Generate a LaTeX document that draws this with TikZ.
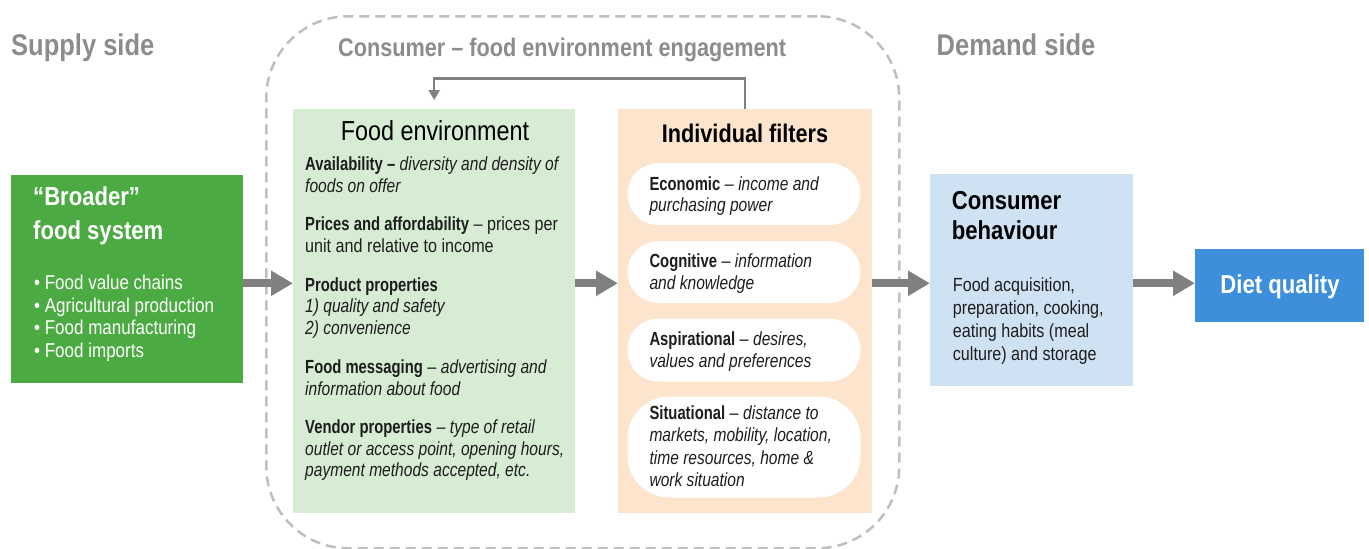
\documentclass[tikz,border=0pt]{standalone}
\usepackage{fontspec}
\setmainfont{Liberation Sans}[FakeStretch=0.85]
\newfontfamily\itfam{Liberation Sans}[FakeStretch=0.82]
\newfontfamily\mbfam{Liberation Sans}[FakeStretch=0.78]
\newcommand\iz[1]{{\itfam\itshape #1}}
\newcommand\mb[1]{{\mbfam\bfseries #1}}
\usetikzlibrary{arrows.meta,calc}
\definecolor{headgray}{HTML}{8C8C8C}
\definecolor{bordergray}{HTML}{BFBFBF}
\definecolor{arrowgray}{HTML}{808080}
\definecolor{sysgreen}{HTML}{4BAA42}
\definecolor{febg}{HTML}{D6ECD3}
\definecolor{fibg}{HTML}{FDE5CD}
\definecolor{cbbg}{HTML}{CFE2F3}
\definecolor{dietblue}{HTML}{3D8EDB}
\definecolor{textcol}{HTML}{1E1E1E}
\tikzset{
  panel/.style={draw=none, inner sep=0pt, anchor=north west},
  pill/.style={fill=white, inner sep=0pt, minimum width=233pt},
  txt/.style={anchor=base west, inner sep=0pt, align=left, text=textcol, font=\fontsize{19}{21.7}\selectfont},
  head/.style={anchor=base west, inner sep=0pt, text=headgray, font=\bfseries\fontsize{30}{34}\selectfont},
  fat/.style={draw=arrowgray, line width=8pt, -{Triangle[length=22pt,width=24pt]}},
  feedback/.style={draw=arrowgray, line width=2.5pt, -{Triangle[length=10pt,width=11pt]}}
}
\begin{document}
\begin{tikzpicture}[x=1pt,y=-1pt]
\useasboundingbox (0,0) rectangle (1369,549);
% engagement area
\node[panel, draw=bordergray, line width=2.5pt, dash pattern=on 10pt off 6pt, rounded corners=82pt, minimum width=633pt, minimum height=532pt] (eng) at (265,15) {};
% headings
\node[head] (supply) at (11,55) {Supply side};
\node[head] (demand) at (936.5,55) {Demand side};
\node[head, font=\bfseries\fontsize{25.5}{30}\selectfont] (engtitle) at (338,56) {Consumer – food environment engagement};
% panels
\node[panel, fill=sysgreen, minimum width=232pt, minimum height=208pt] (sys) at (11,175) {};
\node[panel, fill=febg, minimum width=282pt, minimum height=404pt] (fe) at (293,109) {};
\node[panel, fill=fibg, minimum width=254pt, minimum height=404pt] (fi) at (618,109) {};
\node[panel, fill=cbbg, minimum width=203pt, minimum height=212pt] (cb) at (930,173.5) {};
\node[panel, fill=dietblue, minimum width=169pt, minimum height=73pt] (diet) at (1195,248.5) {};
% broader food system (base anchor = last line)
\node[txt, text=white, font=\bfseries\fontsize{26}{33.3}\selectfont] (systitle) at (33,239) {“Broader”\\food system};
\node[txt, text=white, font=\fontsize{20}{22.7}\selectfont] (syslist) at (34,357.4) {• Food value chains\\• Agricultural production\\• Food manufacturing\\• Food imports};
% food environment
\node[anchor=base, inner sep=0pt, text=black, font=\fontsize{27.5}{30}\selectfont] (fetitle) at (435,140) {Food environment};
\node[txt] (fe1) at (305,192.5) {\mb{Availability –} \iz{diversity and density of}\\\iz{foods on offer}};
\node[txt] (fe2) at (305,252.2) {\mb{Prices and affordability} – prices per\\unit and relative to income};
\node[txt] (fe3) at (305,334.5) {\mb{Product properties}\\\iz{1) quality and safety}\\\iz{2) convenience}};
\node[txt] (fe4) at (305,395) {\mb{Food messaging} – \iz{advertising and}\\\iz{information about food}};
\node[txt] (fe5) at (305,476.7) {\mb{Vendor properties} – \iz{type of retail}\\\iz{outlet or access point, opening hours,}\\\iz{payment methods accepted, etc.}};
% individual filters
\node[anchor=base, inner sep=0pt, text=black, font=\bfseries\fontsize{25.5}{30}\selectfont] (fititle) at (745,142.7) {Individual filters};
\node[pill, rounded corners=31pt, minimum height=62pt] (p1) at (744,194) {};
\node[pill, rounded corners=31pt, minimum height=62pt] (p2) at (744,272) {};
\node[pill, rounded corners=31pt, minimum height=63pt] (p3) at (744,350) {};
\node[pill, rounded corners=42pt, minimum height=101pt] (p4) at (744,447) {};
\node[txt, font=\fontsize{19}{21.3}\selectfont] (t1) at (649.3,211.9) {\mb{Economic} – \iz{income and}\\\iz{purchasing power}};
\node[txt, font=\fontsize{19}{21.6}\selectfont] (t2) at (649.3,289.3) {\mb{Cognitive} – \iz{information}\\\iz{and knowledge}};
\node[txt, font=\fontsize{19}{22}\selectfont] (t3) at (649.3,367.7) {\mb{Aspirational} – \iz{desires,}\\\iz{values and preferences}};
\node[txt, font=\fontsize{19}{22.6}\selectfont] (t4) at (649.3,486.8) {\mb{Situational} – \iz{distance to}\\\iz{markets, mobility, location,}\\\iz{time resources, home \&}\\\iz{work situation}};
% consumer behaviour
\node[txt, text=black, font=\bfseries\fontsize{26}{30}\selectfont] (cbtitle) at (951.7,239) {Consumer\\behaviour};
\node[txt, font=\fontsize{19}{22.8}\selectfont] (cbtext) at (952.7,360) {Food acquisition,\\preparation, cooking,\\eating habits (meal\\culture) and storage};
% diet quality
\node[anchor=base, inner sep=0pt, text=white, font=\bfseries\fontsize{26}{30}\selectfont] (diettxt) at (1280,293.3) {Diet quality};
% arrows
\coordinate (ay) at (0,283.3);
\draw[fat] (sys.east |- ay) -- (fe.west |- ay);
\draw[fat] (fe.east |- ay) -- (fi.west |- ay);
\draw[fat] (fi.east |- ay) -- (cb.west |- ay);
\draw[fat] (cb.east |- ay) -- (diet.west |- ay);
\coordinate (fbtop) at (0,78.5);
\coordinate (fbend) at ($(fe.north)+(0,-9)$);
\draw[feedback] (fi.north) -- (fi.north |- fbtop) -| (fbend);
\end{tikzpicture}
\end{document}
